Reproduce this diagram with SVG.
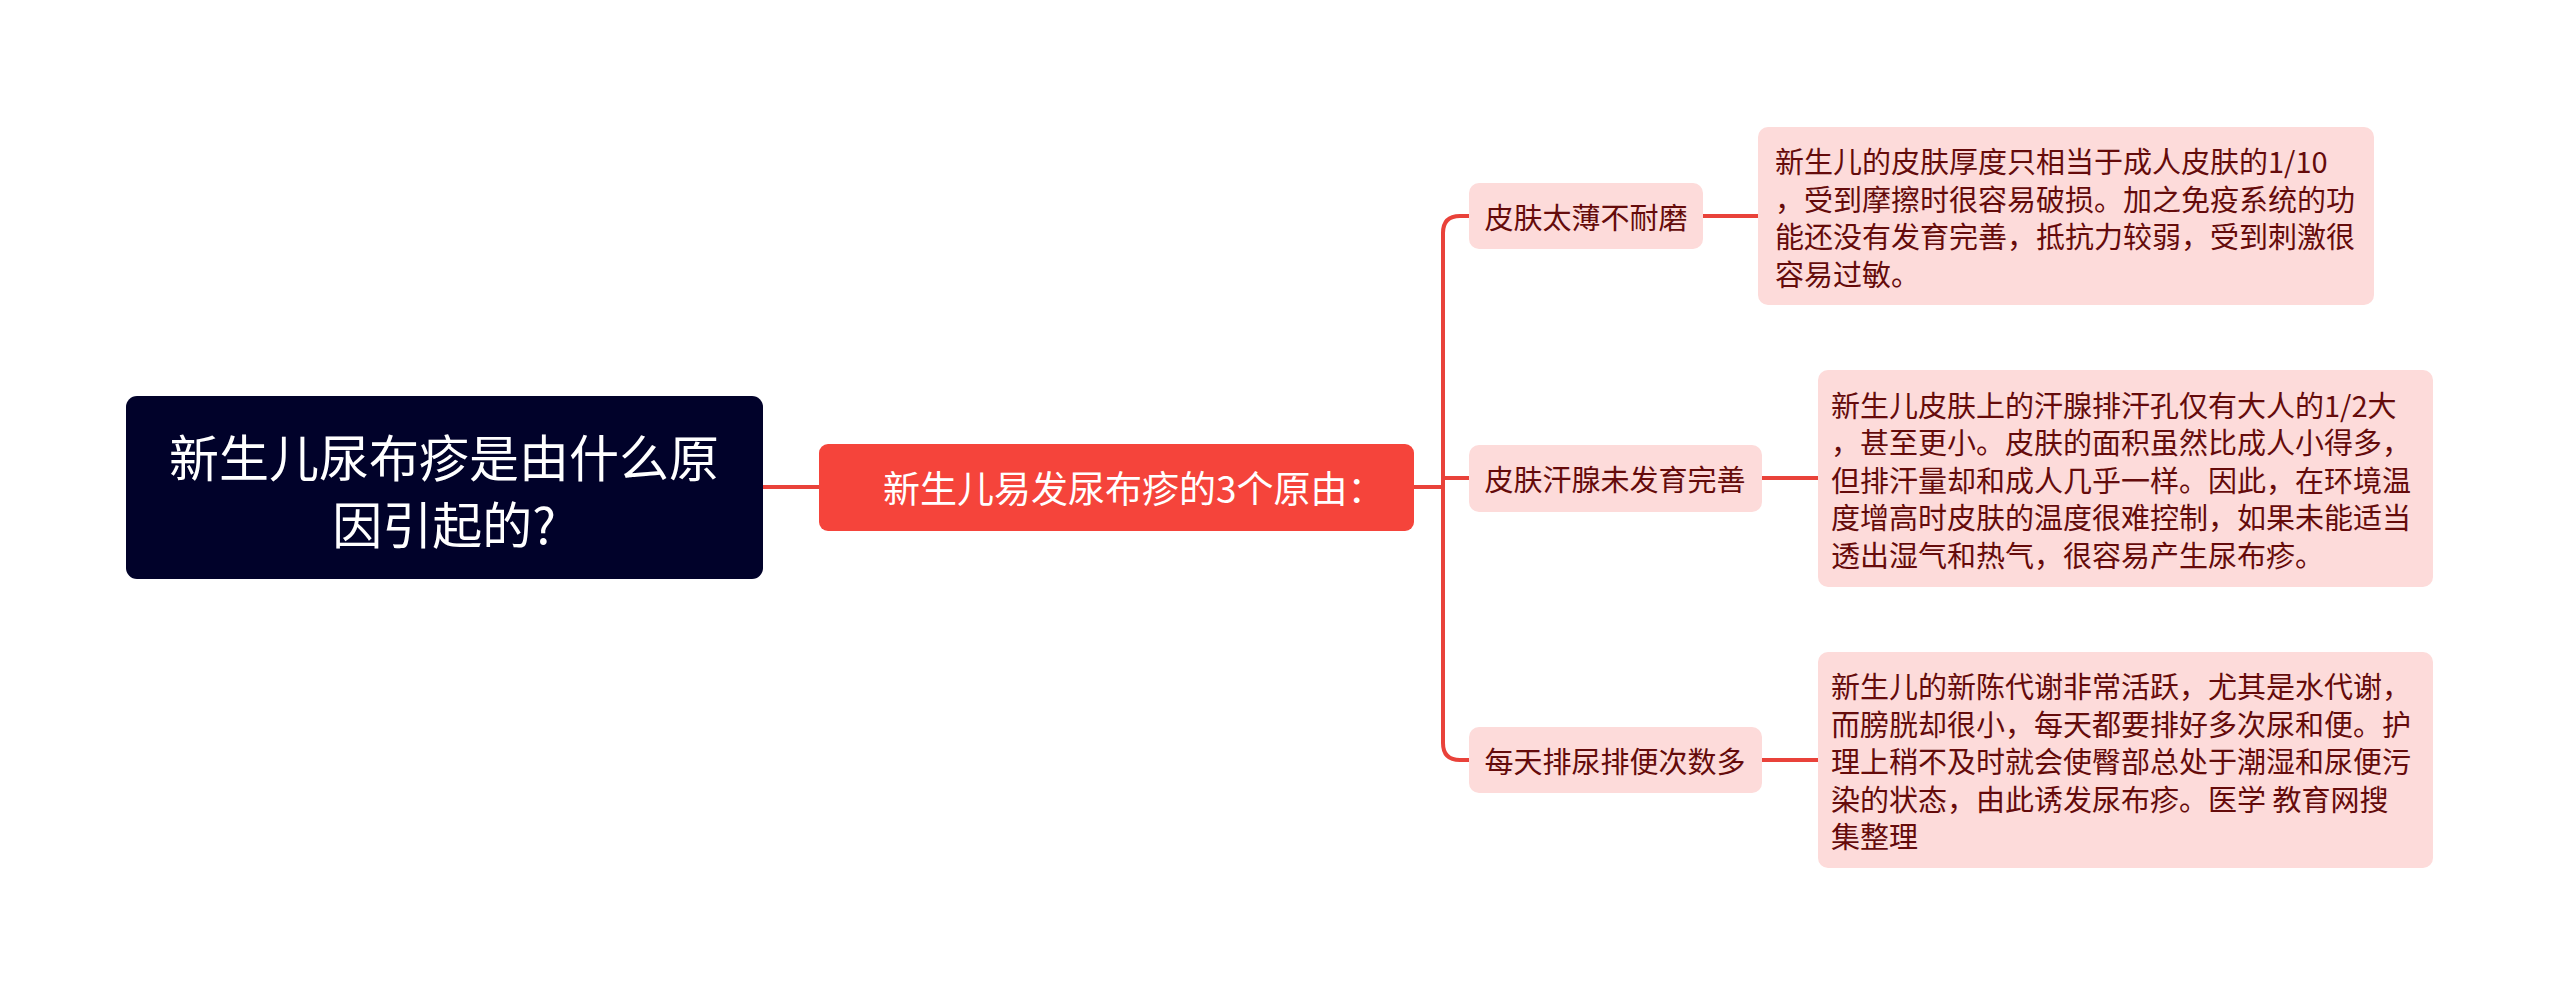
<svg xmlns="http://www.w3.org/2000/svg" width="2560" height="995" viewBox="0 0 2560 995">
<style>
text{font-family:"Noto Sans CJK SC","Noto Sans",sans-serif;dominant-baseline:central}
.root{fill:#01022a}
.rt{fill:#ffffff;font-size:50px;text-anchor:middle}
.main{fill:#f5443b}
.mt{fill:#ffffff;font-size:37px}
.sub{fill:#fddbda}
.st{fill:#650b0b;font-size:29px;text-anchor:middle}
.dt{fill:#650b0b;font-size:29px}
.ln{fill:none;stroke:#e9423a;stroke-width:4}
</style>
<rect width="2560" height="995" fill="#ffffff"/>
<g id="connectors">
<path class="ln" d="M762 487 H820"/>
<path class="ln" d="M1414 487 H1443"/>
<path class="ln" d="M1469 216 H1460 Q1443 216 1443 233 V743 Q1443 760 1460 760 H1469"/>
<path class="ln" d="M1443 478 H1469"/>
<path class="ln" d="M1703 216 H1758"/>
<path class="ln" d="M1762 478 H1818"/>
<path class="ln" d="M1762 760 H1818"/>
</g>
<g id="root">
<rect class="root" x="126" y="396" width="637" height="183" rx="11"/>
<text class="rt" x="444" y="455">新生儿尿布疹是由什么原</text>
<text class="rt" x="444" y="522">因引起的?</text>
</g>
<g id="main">
<rect class="main" x="819" y="444" width="595" height="87" rx="9"/>
<text class="mt" x="883" y="487">新生儿易发尿布疹的3个原由：</text>
</g>
<g id="c1">
<rect class="sub" x="1469" y="183" width="234" height="66" rx="10"/>
<text class="st" x="1586" y="216">皮肤太薄不耐磨</text>
</g>
<g id="c2">
<rect class="sub" x="1469" y="445" width="293" height="67" rx="10"/>
<text class="st" x="1615" y="478">皮肤汗腺未发育完善</text>
</g>
<g id="c3">
<rect class="sub" x="1469" y="727" width="293" height="66" rx="10"/>
<text class="st" x="1615" y="760">每天排尿排便次数多</text>
</g>
<g id="d1">
<rect class="sub" x="1758" y="127" width="616" height="178" rx="10"/>
<text class="dt" x="1775" y="160">新生儿的皮肤厚度只相当于成人皮肤的1/10</text>
<text class="dt" x="1775" y="197.5">，受到摩擦时很容易破损。加之免疫系统的功</text>
<text class="dt" x="1775" y="235">能还没有发育完善，抵抗力较弱，受到刺激很</text>
<text class="dt" x="1775" y="272.5">容易过敏。</text>
</g>
<g id="d2">
<rect class="sub" x="1818" y="370" width="615" height="217" rx="10"/>
<text class="dt" x="1831" y="403.5">新生儿皮肤上的汗腺排汗孔仅有大人的1/2大</text>
<text class="dt" x="1831" y="441">，甚至更小。皮肤的面积虽然比成人小得多，</text>
<text class="dt" x="1831" y="478.5">但排汗量却和成人几乎一样。因此，在环境温</text>
<text class="dt" x="1831" y="516">度增高时皮肤的温度很难控制，如果未能适当</text>
<text class="dt" x="1831" y="553.5">透出湿气和热气，很容易产生尿布疹。</text>
</g>
<g id="d3">
<rect class="sub" x="1818" y="652" width="615" height="216" rx="10"/>
<text class="dt" x="1831" y="685">新生儿的新陈代谢非常活跃，尤其是水代谢，</text>
<text class="dt" x="1831" y="722.5">而膀胱却很小，每天都要排好多次尿和便。护</text>
<text class="dt" x="1831" y="760">理上稍不及时就会使臀部总处于潮湿和尿便污</text>
<text class="dt" x="1831" y="797.5">染的状态，由此诱发尿布疹。医学 教育网搜</text>
<text class="dt" x="1831" y="835">集整理</text>
</g>
</svg>
